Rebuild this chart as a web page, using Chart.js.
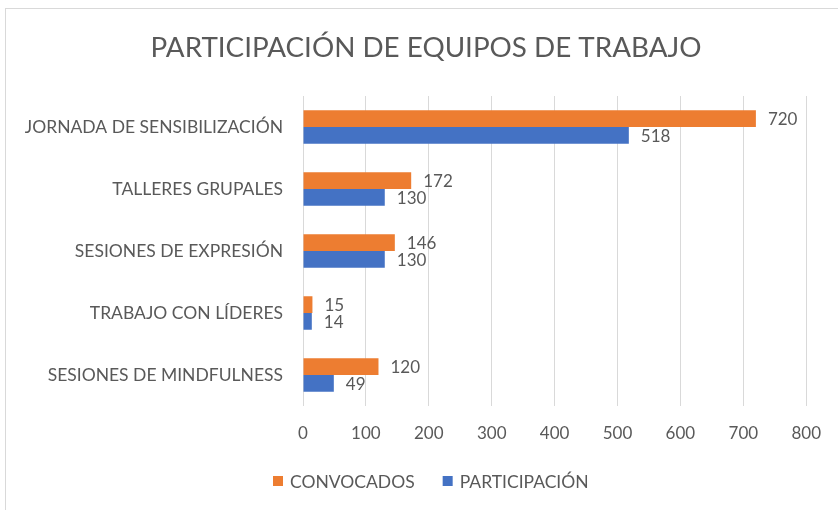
<!DOCTYPE html>
<html>
<head>
<meta charset="utf-8">
<script src="https://cdn.jsdelivr.net/npm/chart.js@4/dist/chart.umd.min.js"></script>
<style>
  html, body { margin: 0; padding: 0; background: #ffffff; }
  #wrap { position: relative; width: 838px; height: 510px; }
</style>
</head>
<body>
<div id="wrap"><canvas id="chart"></canvas></div>
<script>
// datos
const categorias = [
  'JORNADA DE SENSIBILIZACIÓN',
  'TALLERES GRUPALES',
  'SESIONES DE EXPRESIÓN',
  'TRABAJO CON LÍDERES',
  'SESIONES DE MINDFULNESS'
];
const convocados = [720, 172, 146, 15, 120];
const participacion = [518, 130, 130, 14, 49];
const ticksX = [0, 100, 200, 300, 400, 500, 600, 700, 800];
const titulo = 'PARTICIPACIÓN DE EQUIPOS DE TRABAJO';

const FONT = 'Lato';
const GRIS = '#595959';

// marco gris claro y título (centrado sobre el marco, no sobre el lienzo)
const marco = {
  id: 'marco',
  beforeDraw(chart) {
    const ctx = chart.ctx;
    ctx.save();
    ctx.strokeStyle = '#d9d9d9';
    ctx.lineWidth = 1;
    ctx.strokeRect(5.5, 8.5, 900, 600);
    ctx.font = `27.8px ${FONT}`;
    ctx.fillStyle = GRIS;
    ctx.textAlign = 'center';
    ctx.textBaseline = 'middle';
    ctx.fillText(titulo, 426, 48);
    ctx.restore();
  }
};

// leyenda abajo, centrada en x=431 como en Excel
const leyenda = {
  id: 'leyenda',
  afterDraw(chart) {
    const ctx = chart.ctx;
    const ds = chart.data.datasets;
    ctx.save();
    ctx.font = `17.5px ${FONT}`;
    ctx.textBaseline = 'middle';
    ctx.textAlign = 'left';
    const anchos = ds.map(d => 10 + 7 + ctx.measureText(d.label).width);
    const total = anchos.reduce((a, b) => a + b, 0) + 28 * (ds.length - 1);
    let x = Math.round(431 - total / 2);
    const y = 481;
    ds.forEach((d, i) => {
      ctx.fillStyle = d.backgroundColor;
      ctx.fillRect(x, y - 5, 10, 10);
      ctx.fillStyle = GRIS;
      ctx.fillText(d.label, x + 17, y + 1);
      x += anchos[i] + 28;
    });
    ctx.restore();
  }
};

// etiquetas de valor al final de cada barra
const etiquetas = {
  id: 'etiquetas',
  afterDatasetsDraw(chart) {
    const ctx = chart.ctx;
    ctx.save();
    ctx.font = `17px ${FONT}`;
    ctx.fillStyle = GRIS;
    ctx.textAlign = 'left';
    ctx.textBaseline = 'middle';
    chart.data.datasets.forEach((ds, i) => {
      chart.getDatasetMeta(i).data.forEach((bar, j) => {
        ctx.fillText(String(ds.data[j]), bar.x + 12, bar.y + 1);
      });
    });
    ctx.restore();
  }
};

new Chart(document.getElementById('chart'), {
  type: 'bar',
  data: {
    labels: categorias,
    datasets: [
      {
        label: 'CONVOCADOS',
        data: convocados,
        backgroundColor: '#ED7D31',
        borderWidth: 0,
        barPercentage: 1,
        categoryPercentage: 0.54
      },
      {
        label: 'PARTICIPACIÓN',
        data: participacion,
        backgroundColor: '#4472C4',
        borderWidth: 0,
        barPercentage: 1,
        categoryPercentage: 0.54
      }
    ]
  },
  options: {
    indexAxis: 'y',
    responsive: true,
    maintainAspectRatio: false,
    animation: false,
    layout: { padding: { left: 0, right: 31, top: 96, bottom: 46 } },
    plugins: {
      title: { display: false },
      legend: { display: false },
      tooltip: { enabled: false }
    },
    scales: {
      x: {
        min: 0,
        max: 800,
        afterBuildTicks: axis => { axis.ticks = ticksX.map(v => ({ value: v })); },
        afterFit: axis => { axis.height = 58; },
        grid: { color: '#d9d9d9', drawTicks: false },
        border: { display: false },
        ticks: { color: GRIS, font: { family: FONT, size: 17 }, padding: 17 }
      },
      y: {
        afterFit: axis => { axis.width = 303; },
        grid: { display: false, drawTicks: false },
        border: { display: false },
        ticks: { color: GRIS, font: { family: FONT, size: 17.5 }, padding: 20 }
      }
    }
  },
  plugins: [marco, leyenda, etiquetas]
});
</script>
</body>
</html>
